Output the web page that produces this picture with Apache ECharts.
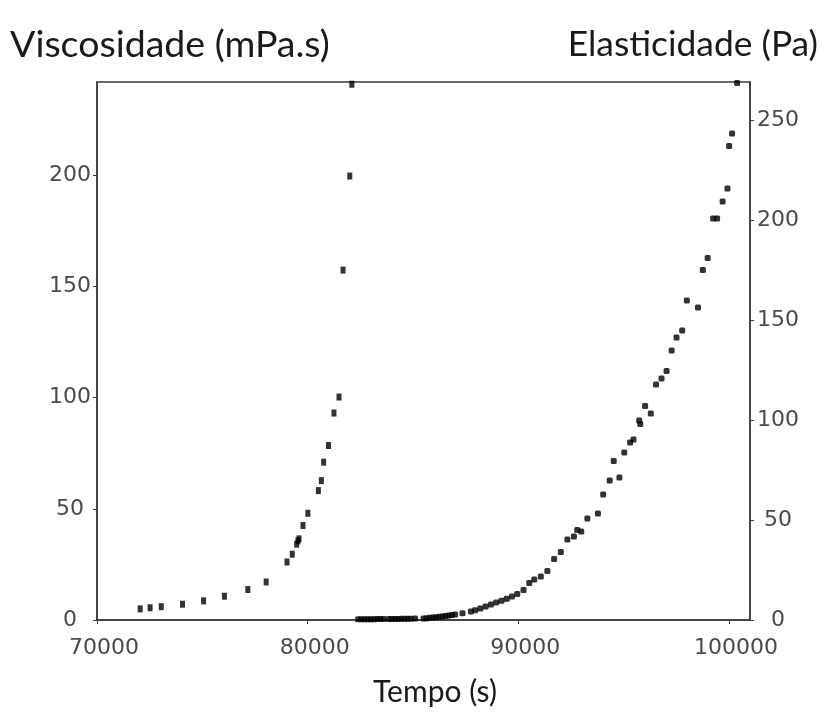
<!DOCTYPE html>
<html>
<head>
<meta charset="utf-8">
<script src="https://cdn.jsdelivr.net/npm/echarts@6/dist/echarts.min.js"></script>
<style>
html,body{margin:0;padding:0;background:#fff;}
#chart{width:823px;height:718px;}
</style>
</head>
<body>
<div id="chart"></div>
<script>
// ---- data ----
const viscTime = [72050,72520,73050,74060,75060,76050,77160,78030,79020,79270,79480,79540,79590,79780,80010,80510,80650,80760,80990,81250,81490,81680,82000,82100];
const viscValue = [5.0,5.5,6.0,7.1,8.6,10.7,13.7,17.1,26.1,29.6,34.1,35.6,36.5,42.5,48.0,58.2,62.7,71.0,78.5,93.1,100.3,157.4,199.7,241];

const elastTime = [82400,82550,82700,82850,83000,83150,83300,83450,83600,
  83850,84000,84150,84300,84450,84600,84750,84900,85100,
  85500,85650,85800,85950,86100,86250,86400,86550,86700,86850,87000,
  87350,87750,87950,88200,88450,88700,88950,89200,89450,89700,89950,
  90250,90520,90760,91070,91380,91700,92020,92330,92640,92800,92990,93280,93780,94030,94340,94530,94800,95030,95310,95470,95740,95790,96020,96290,96540,96800,97040,97280,97510,97780,98000,98530,98760,98990,99250,99440,99700,99930,100010,100150,100390];
const elastValue = [0.4,0.4,0.4,0.4,0.4,0.4,0.5,0.5,0.5,
  0.5,0.5,0.5,0.5,0.6,0.6,0.6,0.6,0.7,
  0.8,0.9,1.1,1.2,1.4,1.6,1.8,2.0,2.2,2.5,2.8,
  3.4,4.3,4.9,5.8,6.8,7.8,8.8,9.6,10.6,11.8,13.0,
  15.0,18.5,20.2,21.8,24.5,30.5,34.0,40.3,41.7,45.0,44.2,50.8,53.3,62.8,69.7,79.5,71.3,83.7,88.7,90.3,99.7,98.0,107.0,103.3,117.8,120.8,124.5,134.7,141.3,144.7,159.8,156.2,175.0,181.0,200.8,200.8,209.2,215.8,237.0,243.3,268.5];

const xMin = 70000, xMax = 101000, xStep = 10000;
const yLeftMax = 242, yLeftStep = 50;
const yRightMax = 269, yRightStep = 50;

const titleLeft = 'Viscosidade (mPa.s)';
const titleRight = 'Elasticidade (Pa)';
const titleX = 'Tempo (s)';

// ---- helpers ----
function fitSize(text, family, width) {
  const c = document.createElement('canvas').getContext('2d');
  c.font = '100px ' + family;
  return 100 * width / c.measureText(text).width;
}
const TF = 'Lato';
const plain = v => String(v);

const chart = echarts.init(document.getElementById('chart'), null, {renderer: 'canvas'});
const labelStyle = {color: '#4a4a4a', fontFamily: 'DejaVu Sans', fontSize: 22, formatter: plain};
const axisLineStyle = {color: '#3a3a3a', width: 1.5};

chart.setOption({
  backgroundColor: '#ffffff',
  animation: false,
  grid: {left: 97, right: 73, top: 82, bottom: 98, show: true, borderColor: '#3a3a3a', borderWidth: 1.5},
  xAxis: {
    type: 'value', min: xMin, max: xMax, interval: xStep,
    axisLine: {lineStyle: axisLineStyle},
    axisTick: {show: true, length: 4, lineStyle: {color: '#3a3a3a'}},
    splitLine: {show: false},
    axisLabel: Object.assign({margin: 17, showMaxLabel: false, padding: [0,0,0,14]}, labelStyle)
  },
  yAxis: [{
    type: 'value', min: 0, max: yLeftMax, interval: yLeftStep, position: 'left',
    axisLine: {show: true, lineStyle: axisLineStyle},
    axisTick: {show: true, length: 4, lineStyle: {color: '#3a3a3a'}},
    splitLine: {show: false},
    axisLabel: Object.assign({margin: 27, align: 'center', showMaxLabel: false, padding: [0,0,10,0]}, labelStyle)
  }, {
    type: 'value', min: 0, max: yRightMax, interval: yRightStep, position: 'right',
    axisLine: {show: true, lineStyle: axisLineStyle},
    axisTick: {show: true, length: 4, lineStyle: {color: '#3a3a3a'}},
    splitLine: {show: false},
    axisLabel: Object.assign({margin: 28, align: 'center', showMaxLabel: false, padding: [0,0,10,0]}, labelStyle)
  }],
  series: [{
    name: 'Viscosidade', type: 'scatter', yAxisIndex: 0,
    symbol: 'rect', symbolSize: [5, 7],
    itemStyle: {color: '#000'},
    data: viscTime.map((t, i) => [t, viscValue[i]])
  }, {
    name: 'Elasticidade', type: 'scatter', yAxisIndex: 1,
    symbol: 'roundRect', symbolSize: [6, 6],
    itemStyle: {color: '#000'},
    data: elastTime.map((t, i) => [t, elastValue[i]])
  }],
  graphic: [
    {type: 'text', x: 10, y: 45, style: {text: titleLeft, fill: '#1a1a1a', font: fitSize(titleLeft, TF, 320).toFixed(1) + 'px ' + TF, textAlign: 'left', textVerticalAlign: 'middle'}},
    {type: 'text', x: 818, y: 45, style: {text: titleRight, fill: '#1a1a1a', font: fitSize(titleRight, TF, 250).toFixed(1) + 'px ' + TF, textAlign: 'right', textVerticalAlign: 'middle'}},
    {type: 'text', x: 435, y: 692, style: {text: titleX, fill: '#1a1a1a', font: fitSize(titleX, TF, 124).toFixed(1) + 'px ' + TF, textAlign: 'center', textVerticalAlign: 'middle'}}
  ]
});
</script>
</body>
</html>
